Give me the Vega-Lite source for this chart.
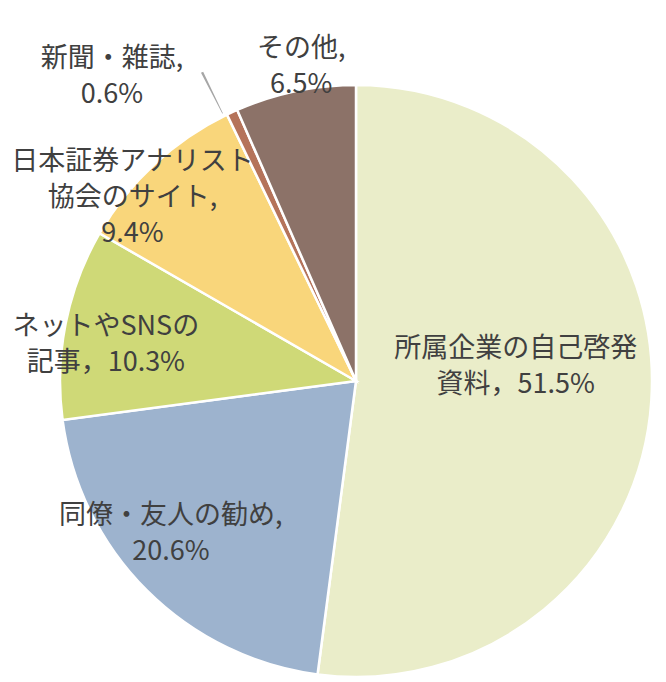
{
  "$schema": "https://vega.github.io/schema/vega-lite/v6.json",
  "width": 666,
  "height": 682,
  "autosize": "none",
  "padding": 0,
  "background": "white",
  "config": {
    "view": {"stroke": null},
    "text": {"font": "Noto Sans CJK JP", "fontSize": 27, "color": "#404040", "lineBreak": "\n", "lineHeight": 36, "align": "center", "baseline": "middle", "x": 356, "y": 381}
  },
  "data": {
    "values": [
      {"idx": 1, "cat": "所属企業の自己啓発資料", "value": 51.5, "label": "所属企業の自己啓発\n資料，51.5%"},
      {"idx": 2, "cat": "同僚・友人の勧め", "value": 20.6, "label": "同僚・友人の勧め,\n20.6%"},
      {"idx": 3, "cat": "ネットやSNSの記事", "value": 10.3, "label": "ネットやSNSの\n記事，10.3%"},
      {"idx": 4, "cat": "日本証券アナリスト協会のサイト", "value": 9.4, "label": "日本証券アナリスト\n協会のサイト,\n\u3000\u30009.4%"},
      {"idx": 5, "cat": "新聞・雑誌", "value": 0.6, "label": "新聞・雑誌,\n0.6%"},
      {"idx": 6, "cat": "その他", "value": 6.5, "label": "その他,\n6.5%"}
    ]
  },
  "encoding": {
    "theta": {"field": "value", "type": "quantitative", "stack": true},
    "order": {"field": "idx", "type": "quantitative", "sort": "ascending"},
    "detail": {"field": "cat", "type": "nominal"}
  },
  "layer": [
    {
      "mark": {"type": "arc", "radius": 296, "stroke": "white", "strokeWidth": 2.5, "x": 356, "y": 381},
      "encoding": {
        "color": {
          "field": "cat", "type": "nominal", "legend": null,
          "scale": {
            "domain": ["所属企業の自己啓発資料", "同僚・友人の勧め", "ネットやSNSの記事", "日本証券アナリスト協会のサイト", "新聞・雑誌", "その他"],
            "range": ["#EAEDC9", "#9DB3CE", "#CFD977", "#F9D67B", "#B5735A", "#8C7268"]
          }
        }
      }
    },
    {
      "mark": {"type": "arc", "radius": 299, "radius2": 345, "thetaOffset": -0.0305, "padAngle": 0.02345, "x": 356, "y": 381, "strokeWidth": 0},
      "encoding": {
        "fill": {"condition": {"test": "datum.cat === '新聞・雑誌'", "value": "#A6A6A6"}, "value": "transparent"}
      }
    },
    {
      "mark": {"type": "text", "radius": 160, "dx": 0, "dy": -42},
      "encoding": {"text": {"field": "label", "type": "nominal", "condition": {"test": "datum.cat !== '所属企業の自己啓発資料'", "value": ""}}}
    },
    {
      "mark": {"type": "text", "radius": 238, "dx": -17, "dy": -33},
      "encoding": {"text": {"field": "label", "type": "nominal", "condition": {"test": "datum.cat !== '同僚・友人の勧め'", "value": ""}}}
    },
    {
      "mark": {"type": "text", "radius": 253, "dx": -2, "dy": -5},
      "encoding": {"text": {"field": "label", "type": "nominal", "condition": {"test": "datum.cat !== 'ネットやSNSの記事'", "value": ""}}}
    },
    {
      "mark": {"type": "text", "radius": 287, "dx": -28, "dy": -9},
      "encoding": {"text": {"field": "label", "type": "nominal", "condition": {"test": "datum.cat !== '日本証券アナリスト協会のサイト'", "value": ""}}}
    },
    {
      "mark": {"type": "text", "radius": 380, "dx": -85, "dy": 23},
      "encoding": {"text": {"field": "label", "type": "nominal", "condition": {"test": "datum.cat !== '新聞・雑誌'", "value": ""}}}
    },
    {
      "mark": {"type": "text", "radius": 321, "dx": 11, "dy": -18},
      "encoding": {"text": {"field": "label", "type": "nominal", "condition": {"test": "datum.cat !== 'その他'", "value": ""}}}
    }
  ]
}
